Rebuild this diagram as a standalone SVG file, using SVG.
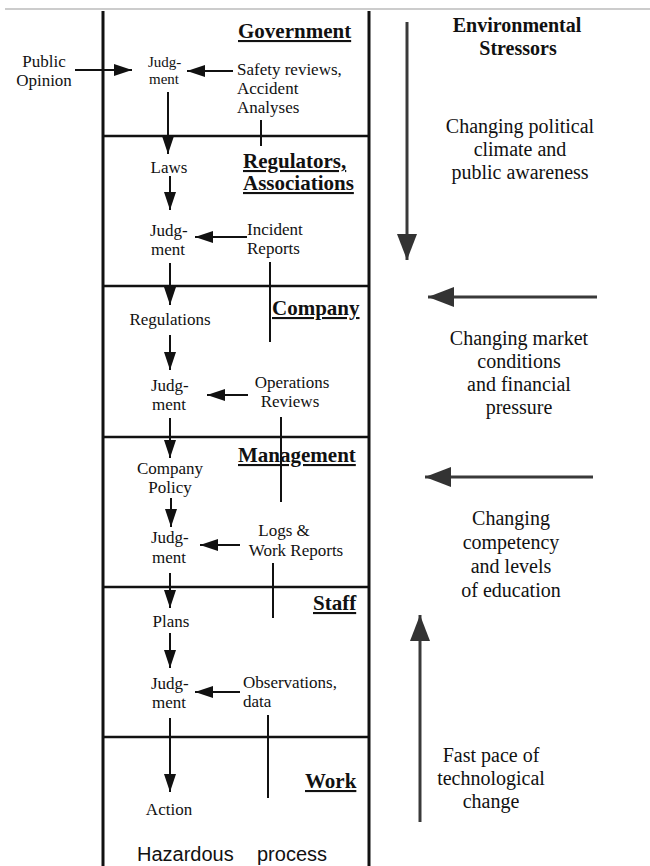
<svg xmlns="http://www.w3.org/2000/svg" width="650" height="866" viewBox="0 0 650 866">
<defs>
<style>
.t{font-family:"Liberation Serif","Times New Roman",serif;font-size:17px;fill:#111}
.s{font-family:"Liberation Serif","Times New Roman",serif;font-size:15px;fill:#111}
.h{font-family:"Liberation Serif","Times New Roman",serif;font-size:21px;font-weight:bold;fill:#111;text-decoration:underline}
.r{font-family:"Liberation Serif","Times New Roman",serif;font-size:20px;fill:#111;text-anchor:middle}
.rb{font-family:"Liberation Serif","Times New Roman",serif;font-size:20px;font-weight:bold;fill:#111;text-anchor:middle}
.m{text-anchor:middle}
.frame{stroke:#111;stroke-width:3;fill:none}
.div{stroke:#111;stroke-width:2.5;fill:none}
.c{stroke:#111;stroke-width:2;fill:none}
.ca{stroke:#111;stroke-width:2;fill:none;marker-end:url(#ah)}
.big{stroke:#3a3a3a;stroke-width:3;fill:none;marker-end:url(#bh)}
</style>
<marker id="ah" markerUnits="userSpaceOnUse" markerWidth="18" markerHeight="12" refX="18" refY="6" orient="auto"><path d="M0,0 L18,6 L0,12 z" fill="#111"/></marker>
<marker id="bh" markerUnits="userSpaceOnUse" markerWidth="26" markerHeight="20" refX="26" refY="10" orient="auto"><path d="M0,0 L26,10 L0,20 z" fill="#333"/></marker>
</defs>
<rect width="650" height="866" fill="#fff"/>
<line x1="5" y1="9" x2="650" y2="9" stroke="#bbb" stroke-width="1.5"/>
<g id="frame">
<line class="frame" x1="103" y1="11" x2="103" y2="866"/>
<line class="frame" x1="369" y1="11" x2="369" y2="866"/>
<line class="div" x1="103" y1="136" x2="369" y2="136"/>
<line class="div" x1="103" y1="286" x2="369" y2="286"/>
<line class="div" x1="103" y1="437" x2="369" y2="437"/>
<line class="div" x1="103" y1="587" x2="369" y2="587"/>
<line class="div" x1="103" y1="737" x2="369" y2="737"/>
</g>
<g id="connectors">
<line class="ca" x1="75" y1="70" x2="132" y2="70"/>
<line class="ca" x1="233" y1="71" x2="187" y2="71"/>
<line class="ca" x1="168" y1="92" x2="168" y2="154"/>
<line class="c" x1="261" y1="120" x2="261" y2="146"/>
<line class="ca" x1="170" y1="176" x2="170" y2="210"/>
<line class="ca" x1="247" y1="237" x2="195" y2="237"/>
<line class="ca" x1="170" y1="263" x2="170" y2="305"/>
<line class="c" x1="270" y1="262" x2="270" y2="342"/>
<line class="ca" x1="170" y1="335" x2="170" y2="370"/>
<line class="ca" x1="248" y1="395" x2="207" y2="395"/>
<line class="ca" x1="170" y1="418" x2="170" y2="458"/>
<line class="c" x1="281" y1="417" x2="281" y2="502"/>
<line class="ca" x1="171" y1="498" x2="171" y2="527"/>
<line class="ca" x1="240" y1="545" x2="200" y2="545"/>
<line class="ca" x1="170" y1="573" x2="170" y2="608"/>
<line class="c" x1="273" y1="563" x2="273" y2="618"/>
<line class="ca" x1="170" y1="633" x2="170" y2="668"/>
<line class="ca" x1="240" y1="692" x2="195" y2="692"/>
<line class="ca" x1="170" y1="718" x2="170" y2="792"/>
<line class="c" x1="268" y1="715" x2="268" y2="798"/>
<line class="big" x1="407" y1="22" x2="407" y2="260"/>
<line class="big" x1="597" y1="297" x2="428" y2="297"/>
<line class="big" x1="593" y1="477" x2="425" y2="477"/>
<line class="big" x1="420" y1="822" x2="420" y2="615"/>
</g>
<g id="public-opinion"><text class="t m" x="44" y="67">Public</text><text class="t m" x="44" y="86">Opinion</text></g>
<g id="government"><text class="h" x="238" y="38">Government</text></g>
<g id="gov-judgment"><text class="s" x="148" y="67">Judg-</text><text class="s" x="149" y="84">ment</text></g>
<g id="safety-reviews"><text class="t" x="237" y="75">Safety reviews,</text><text class="t" x="237" y="94">Accident</text><text class="t" x="237" y="113">Analyses</text></g>
<g id="regulators"><text class="h" x="243" y="168">Regulators,</text><text class="h" x="243" y="190">Associations</text></g>
<g id="laws"><text class="t m" x="169" y="173">Laws</text></g>
<g id="reg-judgment"><text class="t" x="150" y="236">Judg-</text><text class="t" x="151" y="255">ment</text></g>
<g id="incident-reports"><text class="t" x="247" y="235">Incident</text><text class="t" x="247" y="254">Reports</text></g>
<g id="company"><text class="h" x="272" y="315">Company</text></g>
<g id="regulations"><text class="t m" x="170" y="325">Regulations</text></g>
<g id="comp-judgment"><text class="t" x="151" y="391">Judg-</text><text class="t" x="152" y="410">ment</text></g>
<g id="operations-reviews"><text class="t m" x="292" y="388">Operations</text><text class="t m" x="290" y="407">Reviews</text></g>
<g id="management"><text class="h" x="238" y="462">Management</text></g>
<g id="company-policy"><text class="t m" x="170" y="474">Company</text><text class="t m" x="170" y="493">Policy</text></g>
<g id="mgmt-judgment"><text class="t" x="151" y="543">Judg-</text><text class="t" x="152" y="563">ment</text></g>
<g id="logs"><text class="t m" x="284" y="536">Logs &amp;</text><text class="t m" x="296" y="556">Work Reports</text></g>
<g id="staff"><text class="h" x="313" y="610">Staff</text></g>
<g id="plans"><text class="t m" x="171" y="627">Plans</text></g>
<g id="staff-judgment"><text class="t" x="151" y="689">Judg-</text><text class="t" x="152" y="708">ment</text></g>
<g id="observations"><text class="t" x="243" y="688">Observations,</text><text class="t" x="243" y="707">data</text></g>
<g id="work"><text class="h" x="305" y="788">Work</text></g>
<g id="action"><text class="t m" x="169" y="815">Action</text></g>
<g id="hazardous-process"><text font-family="'Liberation Sans',Arial,sans-serif" font-size="20" fill="#111" y="861"><tspan x="137">Hazardous</tspan><tspan x="257">process</tspan></text></g>
<g id="env-stressors"><text class="rb" x="517" y="32">Environmental</text><text class="rb" x="518" y="55">Stressors</text></g>
<g id="political"><text class="r" x="520" y="133">Changing political</text><text class="r" x="520" y="156">climate and</text><text class="r" x="520" y="179">public awareness</text></g>
<g id="market"><text class="r" x="519" y="345">Changing market</text><text class="r" x="519" y="368">conditions</text><text class="r" x="519" y="391">and financial</text><text class="r" x="519" y="414">pressure</text></g>
<g id="competency"><text class="r" x="511" y="525">Changing</text><text class="r" x="511" y="549">competency</text><text class="r" x="511" y="573">and levels</text><text class="r" x="511" y="597">of education</text></g>
<g id="technology"><text class="r" x="491" y="762">Fast pace of</text><text class="r" x="491" y="785">technological</text><text class="r" x="491" y="808">change</text></g>
</svg>
